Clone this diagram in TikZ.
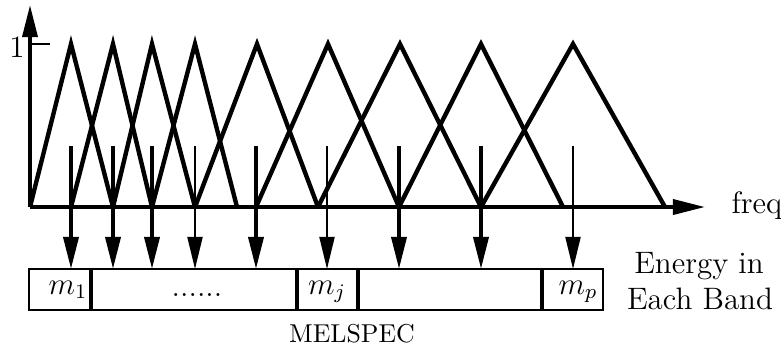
\documentclass[tikz,border=0pt]{standalone}
\usetikzlibrary{arrows.meta}
\begin{document}
\begin{tikzpicture}[x=0.387pt,y=-0.387pt,
  lbl/.style={inner sep=0pt, font=\fontsize{12}{14.4}\selectfont},
  smalllbl/.style={inner sep=0pt, font=\fontsize{10}{12}\selectfont},
  filt/.style={line width=1.7pt},
  axisline/.style={line width=1.4pt, -{Triangle[length=12.4pt,width=5.8pt]}},
  tickline/.style={line width=0.8pt},
  thickarr/.style={line width=1.4pt, -{Triangle[length=12.4pt,width=5.8pt]}},
  thinarr/.style={line width=0.8pt, -{Triangle[length=12.4pt,width=5.8pt]}},
  cell/.style={minimum height=15.87pt, inner sep=0pt, outer sep=0pt},
  boxline/.style={line width=0.8pt},
  divider/.style={line width=1.2pt}]
\useasboundingbox (0,0) rectangle (781,347);

% axes
\coordinate (O) at (30,207);
\coordinate (ytop) at (30,5);
\coordinate (xend) at (705,207);
\coordinate (tickend) at (50,44);
\draw[axisline] (O) -- (ytop);
\draw[axisline] (O) -- (xend);
\draw[tickline] (O |- tickend) -- (tickend);
\node[lbl, anchor=base] (one) at (17,57) {1};
\node[lbl, anchor=base west] (freq) at (731,213) {freq};

% triangular filters: feet on the axis, peaks at level 1
\foreach \l/\p/\r in {30/71/113, 71/113/152, 113/152/195, 152/195/237,
                      195/257/318, 256/328/399, 318/400/481, 399/481/563,
                      481/573/665}
  \draw[filt] (\l,207) -- (\p,44) -- (\r,207);

% energy vector
\node[cell, minimum width=23.99pt] (c1) at (60,289.5) {};
\node[cell, minimum width=79.72pt] (c2) at (194,289.5) {};
\node[cell, minimum width=23.61pt] (c3) at (327.5,289.5) {};
\node[cell, minimum width=71.21pt] (c4) at (450,289.5) {};
\node[cell, minimum width=23.61pt] (c5) at (572.5,289.5) {};
\draw[boxline] (c1.north west) rectangle (c5.south east);
\foreach \c in {c1,c2,c3,c4}
  \draw[divider] (\c.north east) -- (\c.south east);

\node[lbl, anchor=base east] (m1) at (88,294) {$m_1$};
\node[lbl, anchor=base] (dots) at (197,296) {......};
\node[lbl, anchor=base] (mj) at (327,294) {$m_j$};
\node[lbl, anchor=base east] (mp) at (598,294) {$m_p$};
\node[smalllbl, anchor=base] (mel) at (352,342) {MELSPEC};
\node[lbl, anchor=base] (en1) at (699,273) {Energy in};
\node[lbl, anchor=base] (en2) at (700,309) {Each Band};

% band energies into the vector
\foreach \n/\x/\c/\s in {1/71/c1/thickarr, 2/113/c2/thickarr, 3/152/c2/thickarr,
                         4/195/c2/thinarr, 5/256/c2/thickarr, 6/327/c3/thinarr,
                         7/399/c4/thickarr, 8/481/c4/thickarr, 9/573/c5/thinarr}
{
  \coordinate (a\n) at (\x,146);
  \draw[\s] (a\n) -- (a\n |- \c.north);
}
\end{tikzpicture}
\end{document}
